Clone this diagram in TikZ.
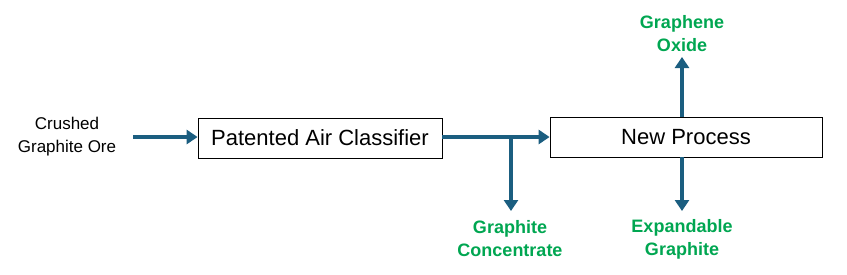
\documentclass[tikz,border=0pt]{standalone}
\usepackage{fontspec}
\setmainfont{Liberation Sans}
\usetikzlibrary{arrows.meta}
\definecolor{flowblue}{HTML}{1B5E80}
\definecolor{prodgreen}{HTML}{00A651}
\begin{document}
\begin{tikzpicture}[x=1pt,y=-1pt,
  procbox/.style={draw=black,line width=0.8pt,inner sep=0pt,font=\fontsize{22}{26}\selectfont},
  flow/.style={draw=flowblue,line width=4.5pt,-{Triangle[length=11pt,width=14pt]}},
  product/.style={text=prodgreen,font=\bfseries\fontsize{18}{23}\selectfont,align=center,inner sep=0pt},
  feed/.style={font=\fontsize{17}{23}\selectfont,align=center,inner sep=0pt}]
\useasboundingbox (0,0) rectangle (847,274);
\node[procbox,minimum width=244pt,minimum height=40pt] (pac) at (320,138) {Patented Air Classifier};
\node[procbox,minimum width=272pt,minimum height=40pt] (np) at (686,137) {New Process};
\node[feed] (ore) at (67,137) {Crushed\\Graphite Ore};
\node[product] (conc) at (510,239) {Graphite\\Concentrate};
\node[product] (go) at (682,34) {Graphene\\Oxide};
\node[product] (eg) at (682,239) {Expandable\\Graphite};
\coordinate (orestart) at (133,137);
\coordinate (split) at (511,137);
\coordinate (concend) at (511,211);
\coordinate (goend) at (682,57);
\coordinate (egend) at (682,211);
\draw[flow] (orestart) -- (pac.west |- orestart);
\draw[flow] (pac.east |- split) -- (np.west |- split);
\draw[flow] (split) -- (concend);
\draw[flow] (np.north -| goend) -- (goend);
\draw[flow] (np.south -| egend) -- (egend);
\end{tikzpicture}
\end{document}
